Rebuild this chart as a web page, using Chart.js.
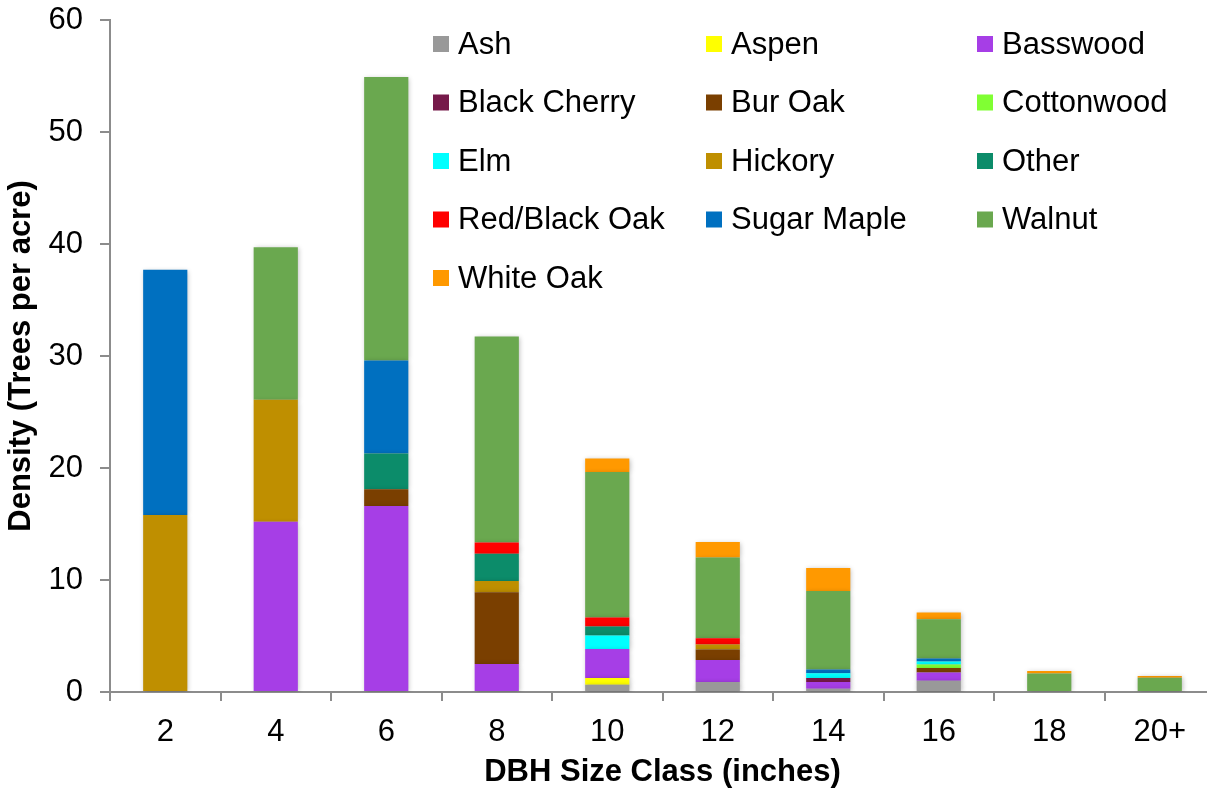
<!DOCTYPE html>
<html>
<head>
<meta charset="utf-8">
<script src="https://cdn.jsdelivr.net/npm/chart.js@4/dist/chart.umd.min.js"></script>
<style>
  html, body { margin: 0; padding: 0; background: #fff; overflow: hidden; }
  #wrap { position: relative; width: 1215px; height: 794px; }
</style>
</head>
<body>
<div id="wrap"><canvas id="chart"></canvas></div>
<script>
// DBH size classes (inches)
const sizeClasses = ['2', '4', '6', '8', '10', '12', '14', '16', '18', '20+'];

// Density by species, trees per acre, one value per size class
const ash         = [0, 0, 0, 0, 0.65, 0.9, 0.3, 1.0, 0, 0];
const aspen       = [0, 0, 0, 0, 0.6, 0, 0, 0, 0, 0];
const basswood    = [0, 15.2, 16.6, 2.5, 2.6, 1.95, 0.6, 0.75, 0, 0];
const blackCherry = [0, 0, 0, 0, 0, 0, 0.35, 0, 0, 0];
const burOak      = [0, 0, 1.5, 6.4, 0, 0.95, 0, 0.4, 0, 0];
const cottonwood  = [0, 0, 0, 0, 0, 0, 0, 0.3, 0, 0];
const elm         = [0, 0, 0, 0, 1.2, 0, 0.42, 0.27, 0, 0];
const hickory     = [15.8, 10.9, 0, 1.0, 0, 0.45, 0, 0, 0, 0];
const other       = [0, 0, 3.2, 2.45, 0.8, 0, 0, 0, 0, 0];
const redBlackOak = [0, 0, 0, 1.0, 0.8, 0.55, 0, 0, 0, 0];
const sugarMaple  = [21.9, 0, 8.3, 0, 0, 0, 0.35, 0.27, 0, 0];
const walnut      = [0, 13.6, 25.3, 18.4, 13.0, 7.2, 7.0, 3.5, 1.65, 1.28];
const whiteOak    = [0, 0, 0, 0, 1.2, 1.4, 2.05, 0.6, 0.22, 0.15];

// Y axis range
const yMin = 0;
const yMax = 60;
const yStep = 10;

const FONT = '"Liberation Sans", Arial, Helvetica, sans-serif';

const series = [
  { label: 'Ash',            data: ash,         color: '#999999' },
  { label: 'Aspen',          data: aspen,       color: '#FFFF00' },
  { label: 'Basswood',       data: basswood,    color: '#A63EE6' },
  { label: 'Black Cherry',   data: blackCherry, color: '#761A4A' },
  { label: 'Bur Oak',        data: burOak,      color: '#7A3F00' },
  { label: 'Cottonwood',     data: cottonwood,  color: '#80FF33' },
  { label: 'Elm',            data: elm,         color: '#00FFFF' },
  { label: 'Hickory',        data: hickory,     color: '#BF8F00' },
  { label: 'Other',          data: other,       color: '#0C8C6A' },
  { label: 'Red/Black Oak',  data: redBlackOak, color: '#FF0000' },
  { label: 'Sugar Maple',    data: sugarMaple,  color: '#0070C0' },
  { label: 'Walnut',         data: walnut,      color: '#6AA84F' },
  { label: 'White Oak',      data: whiteOak,    color: '#FF9900' }
];

// Soft drop shadow behind the bar segments
const barShadow = {
  id: 'barShadow',
  beforeDatasetsDraw(chart) {
    const ctx = chart.ctx;
    ctx.save();
    ctx.shadowColor = 'rgba(0,0,0,0.28)';
    ctx.shadowBlur = 5;
    ctx.shadowOffsetX = 1;
    ctx.shadowOffsetY = 1;
  },
  afterDatasetsDraw(chart) {
    chart.ctx.restore();
  }
};

// Three-column legend placed inside the plot area
const gridLegend = {
  id: 'gridLegend',
  afterDraw(chart) {
    const ctx = chart.ctx;
    const colX = [433, 706, 977];
    const rowY0 = 44;
    const rowStep = 58.5;
    const box = 16;
    ctx.save();
    ctx.font = '31px ' + FONT;
    ctx.textBaseline = 'middle';
    ctx.textAlign = 'left';
    chart.data.datasets.forEach((ds, i) => {
      const x = colX[i % 3];
      const y = rowY0 + Math.floor(i / 3) * rowStep;
      ctx.fillStyle = ds.backgroundColor;
      ctx.fillRect(x, y - box / 2, box, box);
      ctx.fillStyle = '#000000';
      ctx.fillText(ds.label, x + 25, y + 1);
    });
    ctx.restore();
  }
};

new Chart(document.getElementById('chart'), {
  type: 'bar',
  data: {
    labels: sizeClasses,
    datasets: series.map(s => ({
      label: s.label,
      data: s.data,
      backgroundColor: s.color,
      borderWidth: 0,
      categoryPercentage: 1,
      barPercentage: 0.4
    }))
  },
  options: {
    responsive: true,
    maintainAspectRatio: false,
    animation: false,
    layout: { padding: { top: 20, right: 0, bottom: 0, left: 0 } },
    plugins: {
      legend: { display: false },
      tooltip: { enabled: false }
    },
    scales: {
      x: {
        stacked: true,
        afterFit(scale) {
          scale.height = 102;
          scale.paddingLeft = 0;
          scale.paddingRight = 0;
        },
        grid: {
          display: true,
          offset: true,
          drawOnChartArea: false,
          drawTicks: true,
          tickLength: 9,
          color: '#8c8c8c',
          lineWidth: 2
        },
        border: { display: true, color: '#8c8c8c', width: 2 },
        ticks: {
          color: '#000000',
          padding: 13,
          maxRotation: 0,
          font: { family: FONT, size: 31 }
        },
        title: {
          display: true,
          text: 'DBH Size Class (inches)',
          color: '#000000',
          padding: { top: 0, bottom: 3 },
          font: { family: FONT, size: 31, weight: 'bold' }
        }
      },
      y: {
        stacked: true,
        min: yMin,
        max: yMax,
        afterFit(scale) {
          scale.width = 110;
          scale.paddingTop = 0;
          scale.paddingBottom = 0;
        },
        grid: {
          display: true,
          drawOnChartArea: false,
          drawTicks: true,
          tickLength: 10,
          color: '#8c8c8c',
          lineWidth: 2
        },
        border: { display: true, color: '#8c8c8c', width: 2 },
        ticks: {
          stepSize: yStep,
          color: '#000000',
          padding: 17,
          font: { family: FONT, size: 31 }
        },
        title: {
          display: true,
          text: 'Density (Trees per acre)',
          color: '#000000',
          padding: { top: 3, bottom: 0 },
          font: { family: FONT, size: 31, weight: 'bold' }
        }
      }
    }
  },
  plugins: [barShadow, gridLegend]
});
</script>
</body>
</html>
